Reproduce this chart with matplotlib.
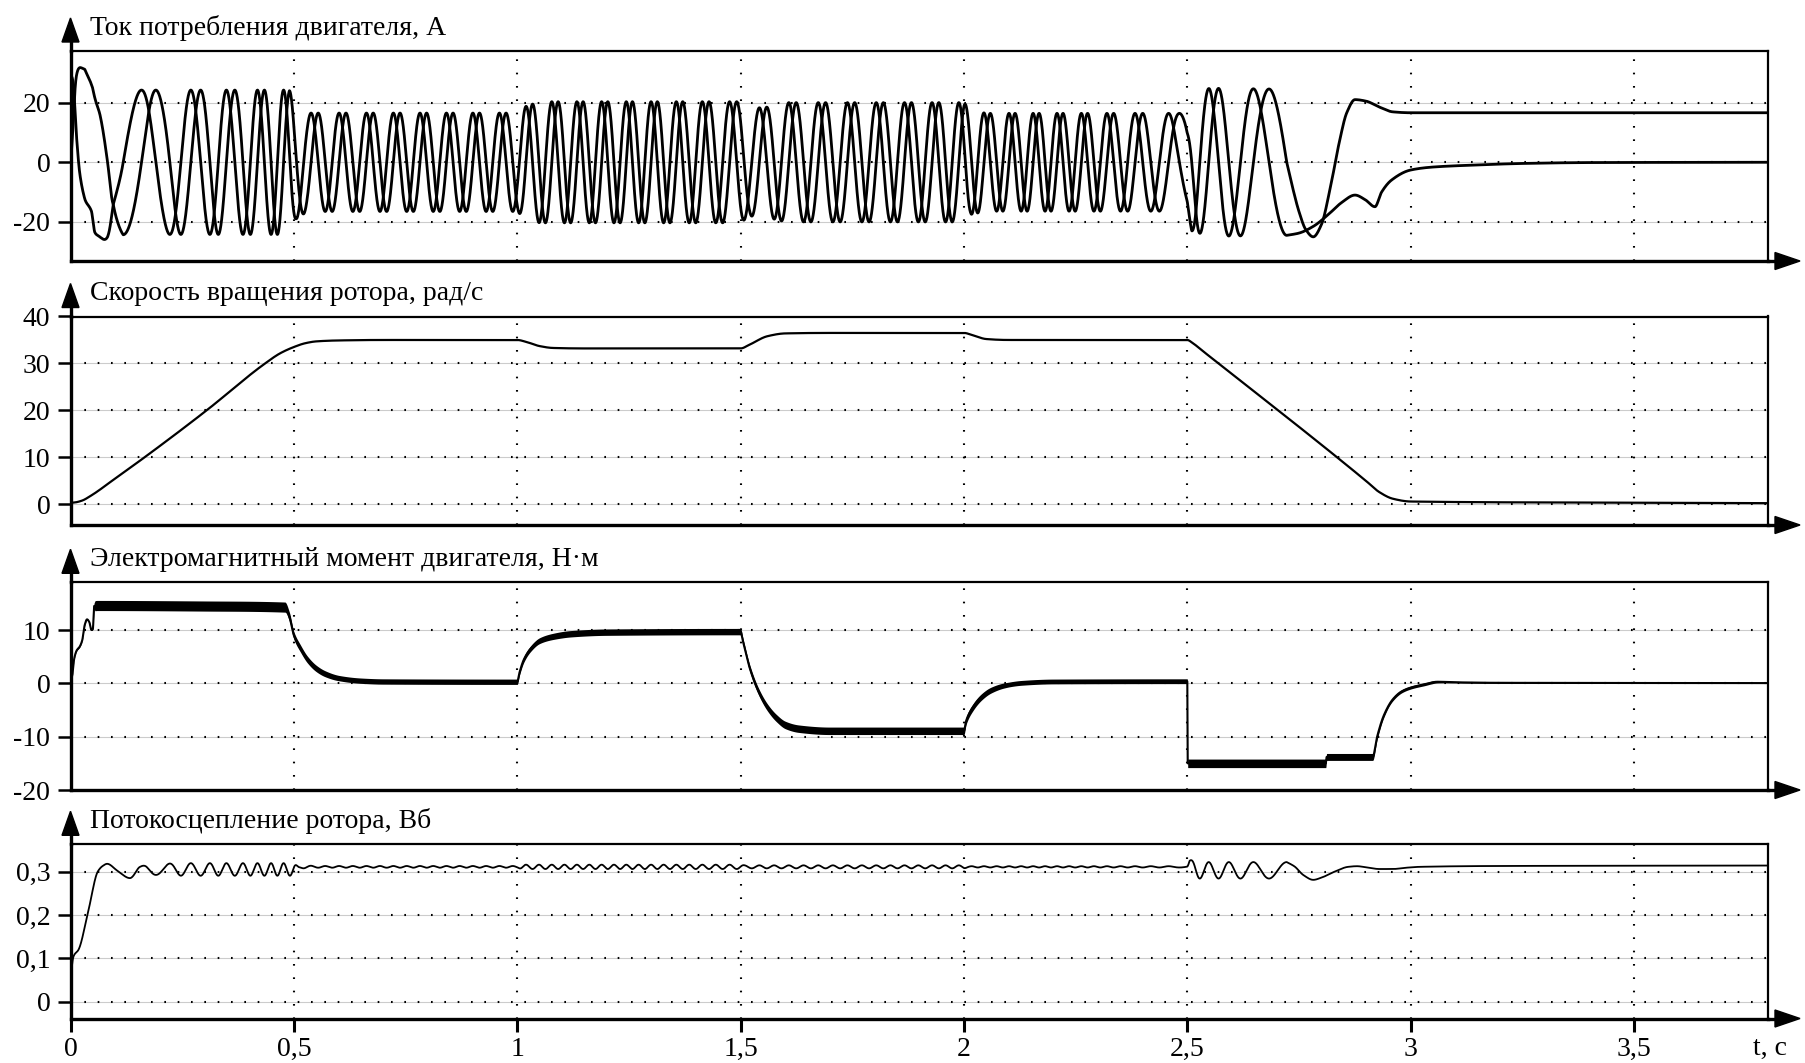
import numpy as np
import matplotlib
matplotlib.use("Agg")
import matplotlib.pyplot as plt
from matplotlib.patches import Polygon
from matplotlib.lines import Line2D

plt.rcParams['font.family'] = ['Liberation Serif', 'DejaVu Serif']
plt.rcParams['lines.scale_dashes'] = False

T_END = 3.8

# ---------------- stator current: alpha/beta pair ----------------
# angle of the current vector (in turns) at the times of the waveform extrema
cur_t = [0.0, 0.003, 0.014, 0.021, 0.032, 0.047, 0.054, 0.066, 0.083, 0.0957,
         0.118, 0.159, 0.191, 0.2224, 0.2694, 0.312, 0.349, 0.386, 0.4185, 0.449,
         0.477, 0.506, 0.5466, 0.9676, 1.027, 1.4833, 1.5504, 1.996, 2.052,
         2.4693, 2.510, 2.528, 2.548, 2.570, 2.593, 2.619, 2.648, 2.683, 2.7226]
cur_turns = [0.0, 0.03, 0.21, 0.27, 0.31, 0.34, 0.38, 0.41, 0.5, 0.625,
             0.75, 1.0, 1.25, 1.5, 2.0, 2.5, 3.0, 3.5, 4.0, 4.5,
             5.0, 5.5, 6.125, 13.125, 14.125, 22.125, 23.125, 30.125, 31.125,
             38.125, 38.5, 38.75, 39.0, 39.25, 39.5, 39.75, 40.0, 40.25, 40.5]
# current amplitude, A
amp_t = [0.0, 0.002, 0.014, 0.021, 0.032, 0.047, 0.054, 0.066, 0.083, 0.0957,
         0.118, 0.159, 0.49, 0.505, 0.53, 1.0, 1.015, 1.05, 1.5, 1.52, 1.56,
         1.6, 2.0, 2.015, 2.05, 2.5, 2.51, 2.55, 2.7226]
amp_v = [0.0, 29.0, 30.5, 32.0, 33.5, 30.7, 32.0, 29.7, 25.0, 20.0,
         24.3, 24.2, 24.2, 19.0, 16.5, 16.5, 18.5, 20.3, 20.3, 18.0, 18.5,
         20.0, 20.0, 17.5, 16.4, 16.4, 23.0, 24.8, 24.5]
# braking tail of both phase currents, A
tail_a_t = [2.7226, 2.7488, 2.782, 2.8158, 2.8456, 2.8755, 2.8978, 2.9201,
            2.935, 2.957, 3.0, 3.05, 3.15, 3.25, 3.4, 3.8]
tail_a_v = [-24.5, -23.8, -21.5, -17.5, -13.5, -11.0, -12.5, -14.9,
            -10.0, -6.0, -2.6, -1.6, -0.9, -0.4, -0.1, 0.0]
tail_b_t = [2.7226, 2.735, 2.75, 2.765, 2.782, 2.80, 2.82, 2.84, 2.857,
            2.8755, 2.90, 2.93, 2.96, 3.0, 3.8]
tail_b_v = [0.0, -8.0, -16.5, -22.5, -25.0, -21.0, -8.7, 6.5, 16.6,
            21.0, 20.5, 18.5, 16.9, 16.6, 16.6]

# ---------------- rotor speed, rad/s ----------------
spd_t = [0.0, 0.01, 0.026, 0.045, 0.1, 0.167, 0.3045, 0.4327, 0.47, 0.5,
         0.525, 0.55, 0.6, 0.7, 1.0, 1.02, 1.05, 1.08, 1.15, 1.5, 1.52,
         1.56, 1.6, 1.7, 2.0, 2.02, 2.05, 2.1, 2.5, 2.51, 2.53, 2.9, 2.93,
         2.96, 3.0, 3.5, 3.8]
spd_v = [0.3, 0.4, 0.8, 1.8, 5.5, 10.1, 20.0, 29.8, 32.2, 33.5,
         34.3, 34.7, 34.9, 35.0, 35.0, 34.6, 33.7, 33.3, 33.2, 33.2, 34.0,
         35.8, 36.4, 36.5, 36.5, 36.0, 35.2, 35.0, 35.0, 34.5, 33.0, 5.0, 2.6,
         1.2, 0.6, 0.35, 0.25]

# ---------------- electromagnetic torque, N*m ----------------
tq_t = [0.0, 0.004, 0.008, 0.014, 0.02, 0.026, 0.032, 0.037, 0.042, 0.047,
        0.05, 0.053, 0.06, 0.3, 0.48, 0.49, 0.5, 0.515, 0.53, 0.55, 0.57,
        0.6, 0.65, 0.7, 1.0, 1.005, 1.015, 1.03, 1.05, 1.08, 1.12, 1.2, 1.5,
        1.505, 1.52, 1.54, 1.56, 1.58, 1.6, 1.63, 1.7, 2.0, 2.005, 2.02,
        2.04, 2.06, 2.09, 2.13, 2.2, 2.5, 2.501, 2.81, 2.812, 2.915, 2.925,
        2.94, 2.96, 2.98, 3.0, 3.03, 3.06, 3.1, 3.2, 3.8]
tq_v = [0.0, 1.5, 4.5, 6.2, 6.8, 8.0, 11.0, 12.0, 11.5, 10.0,
        10.2, 14.5, 14.6, 14.5, 14.3, 12.5, 9.0, 6.5, 4.5, 2.8, 1.8,
        1.0, 0.5, 0.35, 0.3, 2.0, 4.5, 6.5, 8.0, 8.8, 9.3, 9.6, 9.7,
        8.0, 3.0, -1.5, -4.5, -6.5, -7.8, -8.5, -8.9, -8.9, -7.0, -4.5,
        -2.5, -1.3, -0.4, 0.1, 0.35, 0.4, -15.0, -15.0, -13.8, -13.8, -10.0,
        -6.0, -3.0, -1.5, -0.8, -0.2, 0.3, 0.2, 0.1, 0.05]
# half-width of the PWM ripple band around the torque
rip_t = [0.0, 0.05, 0.055, 0.48, 0.5, 0.6, 1.0, 1.1, 1.5, 1.6, 2.0, 2.1,
         2.5, 2.501, 2.81, 2.812, 2.915, 2.95, 3.05, 3.1, 3.8]
rip_v = [0.1, 0.1, 0.95, 0.95, 0.7, 0.5, 0.5, 0.6, 0.6, 0.7, 0.7, 0.45,
         0.45, 0.8, 0.8, 0.65, 0.65, 0.3, 0.25, 0.1, 0.08]

# ---------------- rotor flux linkage, Wb ----------------
flx_t = [0.0, 0.003, 0.007, 0.018, 0.04, 0.061, 0.072, 0.082, 0.105, 0.133,
         0.155, 0.5, 0.52, 1.0, 1.5, 2.0, 2.5, 2.52, 2.7226]
flx_v = [0.0, 0.08, 0.105, 0.12, 0.21, 0.30, 0.313, 0.318, 0.302, 0.285,
         0.305, 0.305, 0.311, 0.311, 0.311, 0.311, 0.311, 0.303, 0.303]
# ripple of the flux (twice the current frequency)
frip_t = [0.0, 0.14, 0.17, 0.25, 0.5, 0.51, 0.55, 1.0, 1.01, 1.5, 1.51,
          2.0, 2.01, 2.5, 2.505, 2.7226]
frip_v = [0.0, 0.0, 0.012, 0.0145, 0.0145, 0.004, 0.002, 0.002, 0.005,
          0.005, 0.0035, 0.0035, 0.0015, 0.0015, 0.019, 0.019]
flx_tail_t = [2.7226, 2.74, 2.76, 2.782, 2.80, 2.83, 2.86, 2.88, 2.90,
              2.93, 2.96, 2.99, 3.02, 3.2, 3.8]
flx_tail_v = [0.322, 0.312, 0.292, 0.281, 0.286, 0.300, 0.311, 0.3125,
              0.310, 0.306, 0.306, 0.309, 0.311, 0.313, 0.314]

titles = ["Ток потребления двигателя, А",
          "Скорость вращения ротора, рад/с",
          "Электромагнитный момент двигателя, Н·м",
          "Потокосцепление ротора, Вб"]
ytick_vals = [[-20, 0, 20], [0, 10, 20, 30, 40], [-20, -10, 0, 10],
              [0, 0.1, 0.2, 0.3]]
ytick_text = [["-20", "0", "20"], ["0", "10", "20", "30", "40"],
              ["-20", "-10", "0", "10"], ["0", "0,1", "0,2", "0,3"]]
xtick_vals = [0, 0.5, 1, 1.5, 2, 2.5, 3, 3.5]
xtick_text = ["0", "0,5", "1", "1,5", "2", "2,5", "3", "3,5"]


def pchip(xk, yk, x):
    """Shape-preserving cubic through the key points."""
    xk = np.asarray(xk, float)
    yk = np.asarray(yk, float)
    h = np.diff(xk)
    d = np.diff(yk) / h
    m = np.zeros_like(yk)
    for k in range(1, len(xk) - 1):
        if d[k - 1] * d[k] > 0:
            w1 = 2 * h[k] + h[k - 1]
            w2 = h[k] + 2 * h[k - 1]
            m[k] = (w1 + w2) / (w1 / d[k - 1] + w2 / d[k])
    m[0] = d[0]
    m[-1] = d[-1]
    i = np.clip(np.searchsorted(xk, x, side='right') - 1, 0, len(xk) - 2)
    s = (x - xk[i]) / h[i]
    h00 = 2 * s ** 3 - 3 * s ** 2 + 1
    h10 = s ** 3 - 2 * s ** 2 + s
    h01 = -2 * s ** 3 + 3 * s ** 2
    h11 = s ** 3 - s ** 2
    return h00 * yk[i] + h10 * h[i] * m[i] + h01 * yk[i + 1] + h11 * h[i] * m[i + 1]


t = np.linspace(0.0, T_END, 30000)
rot = t <= cur_t[-1]

turns = pchip(cur_t, cur_turns, t)
amp = np.interp(t, amp_t, amp_v)
ia = amp * np.cos(2 * np.pi * turns)
ib = amp * np.sin(2 * np.pi * turns)
ia[~rot] = pchip(tail_a_t, tail_a_v, t[~rot])
ib[~rot] = pchip(tail_b_t, tail_b_v, t[~rot])

speed = pchip(spd_t, spd_v, t)
torque = pchip(tq_t, tq_v, t)
ripple = np.interp(t, rip_t, rip_v)

flux = pchip(flx_t, flx_v, t) + np.interp(t, frip_t, frip_v) * np.cos(4 * np.pi * turns)
flux[~rot] = pchip(flx_tail_t, flx_tail_v, t[~rot])

# ---------------- layout (pixels of the 1805x1063 canvas) ----------------
W, H = 1805, 1063
LEFT, RIGHT = 70.5, 1768.0
frames = [(51.0, 261.0), (316.5, 525.0), (582.3, 790.0), (844.3, 1018.5)]
ylims = [(-33.1, 37.3), (-4.4, 40.0), (-20.0, 18.95), (-0.0388, 0.363)]

fig = plt.figure(figsize=(W / 100, H / 100), dpi=100)
fig.patch.set_facecolor('white')


def fx(px):
    return px / W


def fy(py):
    return 1 - py / H


DOT = (0, (1.2, 8.4))
axes = []
for k, (top, bot) in enumerate(frames):
    ax = fig.add_axes([fx(LEFT), fy(bot), fx(RIGHT - LEFT), (bot - top) / H])
    ax.set_xlim(0, T_END)
    ax.set_ylim(*ylims[k])
    for s in ('top', 'right'):
        ax.spines[s].set_linewidth(1.6)
    for s in ('left', 'bottom'):
        ax.spines[s].set_linewidth(2.4)
    ax.set_yticks(ytick_vals[k])
    ax.set_yticklabels(ytick_text[k])
    ax.tick_params(axis='y', direction='out', length=9.5, width=1.8, pad=5,
                   labelsize=20)
    ax.set_xticks(xtick_vals)
    if k == 3:
        ax.set_xticklabels(xtick_text)
        ax.tick_params(axis='x', direction='out', length=9, width=2.2, pad=4,
                       labelsize=20)
    else:
        ax.tick_params(axis='x', length=0, labelbottom=False)
    lo, hi = ylims[k]
    for yv in ytick_vals[k]:
        if lo + 1e-9 < yv < hi - 1e-9:
            ax.axhline(yv, color='#cccccc', lw=0.8, zorder=1)
            ax.axhline(yv, color='k', lw=1.5, ls=DOT, zorder=1.5)
    for xv in xtick_vals[1:]:
        ax.axvline(xv, color='k', lw=1.5, ls=DOT, zorder=1.5)

    # axis arrows
    fig.add_artist(Line2D([fx(LEFT), fx(LEFT)], [fy(top), fy(top - 10)],
                          color='k', lw=2.4, transform=fig.transFigure))
    fig.add_artist(Polygon([[fx(LEFT - 8.5), fy(top - 9)], [fx(LEFT + 8.5), fy(top - 9)],
                            [fx(LEFT), fy(top - 33)]], closed=True, color='k',
                           transform=fig.transFigure))
    fig.add_artist(Line2D([fx(RIGHT), fx(1776)], [fy(bot), fy(bot)],
                          color='k', lw=2.4, transform=fig.transFigure))
    fig.add_artist(Polygon([[fx(1775), fy(bot - 8.5)], [fx(1775), fy(bot + 8.5)],
                            [fx(1800), fy(bot)]], closed=True, color='k',
                           transform=fig.transFigure))
    fig.text(fx(LEFT + 19), fy(top - 23), titles[k], fontsize=20,
             ha='left', va='center')
    axes.append(ax)

ax1, ax2, ax3, ax4 = axes
ax1.plot(t, ia, color='k', lw=2.0, zorder=3)
ax1.plot(t, ib, color='k', lw=2.0, zorder=3)

ax2.plot(t, speed, color='k', lw=1.6, zorder=3)

ax3.fill_between(t, torque - ripple, torque + ripple, color='k', lw=0, zorder=3)
ax3.plot(t, torque, color='k', lw=1.5, zorder=3)

ax4.plot(t, flux, color='k', lw=1.3, zorder=3)

fig.text(fx(1770), fy(1048), "t, с", fontsize=20, ha='center', va='center')

fig.savefig("out.png", dpi=100)
